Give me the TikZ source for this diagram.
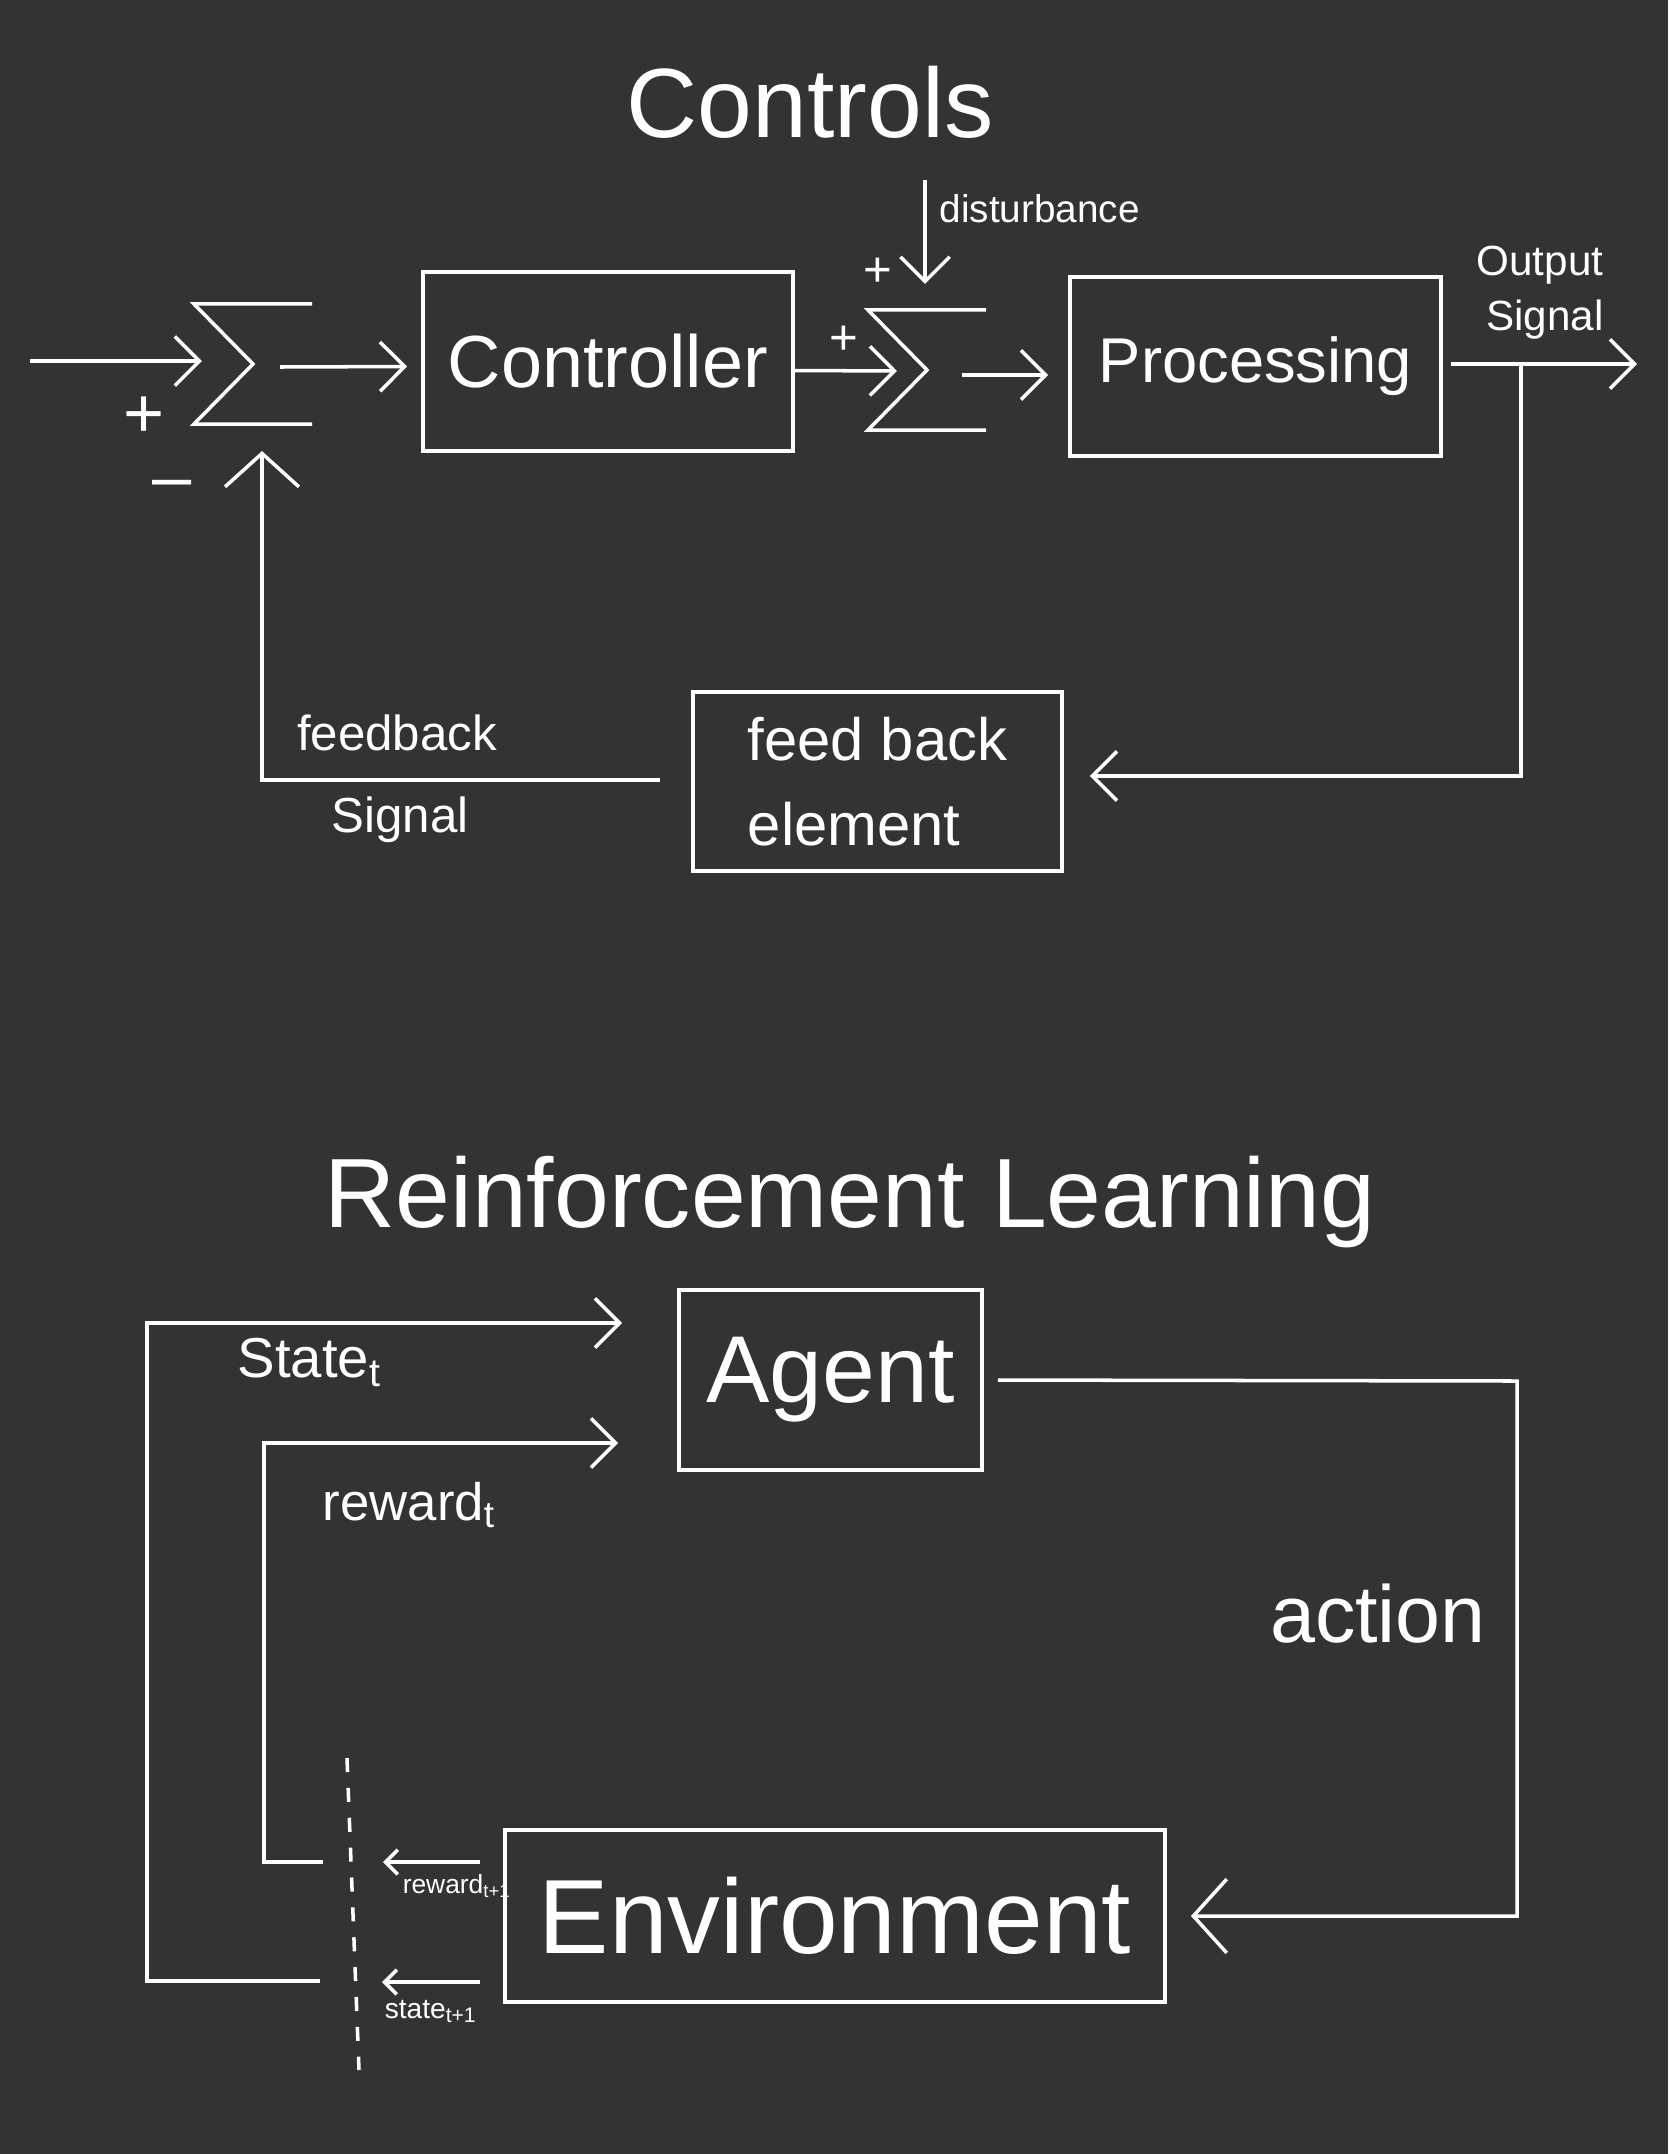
\documentclass[tikz,border=0pt]{standalone}
\usepackage{fontspec}
\setmainfont{Liberation Sans}
\usetikzlibrary{arrows.meta, positioning, calc}
\definecolor{board}{HTML}{333333}
\tikzset{
    arr/.style={-{Straight Barb[length=7pt,width=14pt]}},
    bigarr/.style={-{Straight Barb[length=9.5pt,width=21pt]}},
    smallarr/.style={-{Straight Barb[length=3.5pt,width=7pt]}},
    blk/.style={draw, inner sep=0pt},
    sumj/.style={minimum width=1.18cm, minimum height=1.2cm, inner sep=0pt, outer sep=0pt},
    ttl/.style={font=\fontsize{28}{34}\selectfont},
    pmsign/.style={inner sep=0pt, font=\fontsize{14}{17}\selectfont},
    note/.style={inner sep=0pt, font=\fontsize{14}{17}\selectfont}
}

\begin{document}
\begin{tikzpicture}[x=0.01cm, y=-0.01cm, line width=1pt, color=white]
    \fill[board] (0,0) rectangle (1668,2154);

    % controls
    \node[ttl, anchor=base] (ctitle) at (810,137) {Controls};

    \node[sumj] (s1) at (253,364) {};
    \node[sumj] (s2) at (927,370) {};
    \foreach \s in {s1,s2}
        \draw (\s.north east) -- (\s.north west) -- (\s.center) -- (\s.south west) -- (\s.south east);

    \node[blk, minimum width=3.70cm, minimum height=1.79cm, font=\fontsize{21}{25}\selectfont] (ctrl) at (608,361.5) {Controller};
    \node[blk, minimum width=3.71cm, minimum height=1.79cm, font=\fontsize{18}{22}\selectfont] (proc) at (1255.5,366.5) {Processing};
    \node[blk, minimum width=3.69cm, minimum height=1.79cm, align=left, font=\fontsize{17}{24}\selectfont] (fb) at (877.5,781.5) {feed back\\element};

    \coordinate (in) at (30,361);
    \coordinate (dist) at (925,180);
    \coordinate (out) at (1637,364);
    \coordinate (tap) at (1521,364);

    \draw[arr] (in) -- ($(s1.west)+(8,-3)$);
    \draw[arr] ($(s1.center)+(27,3)$) -- ($(ctrl.west)+(-14,5)$);
    \draw[arr] ($(ctrl.east)+(0,9)$) -- ($(s2.west)+(29,1)$);
    \draw[arr] (dist) -- ($(s2.north)+(-2,-26)$);
    \draw[arr] ($(s2.center)+(35,5)$) -- ($(proc.west)+(-20,8.5)$);
    \draw[arr] ($(proc.east)+(8,-2.5)$) -- (out);
    \draw[arr] (tap) |- ($(fb.east)+(26,-5.5)$);
    \draw[bigarr] ($(fb.west)+(-31,-1.5)$) -| ($(s1.south)+(9,27)$);

    \node[pmsign, font=\fontsize{20}{24}\selectfont] (p1) at (144,417) {+};
    \node[pmsign, font=\fontsize{20}{24}\selectfont] (m1) at (172,490) {–};
    \node[pmsign] (p2) at (844,340) {+};
    \node[pmsign] (p3) at (878,272) {+};

    \node[inner sep=0pt, font=\fontsize{11}{13}\selectfont, anchor=base west] (distl) at (938,222) {disturbance};
    \node[inner sep=0pt, font=\fontsize{12}{14}\selectfont, anchor=base] (outl) at (1540,275) {Output};
    \node[inner sep=0pt, font=\fontsize{12}{14}\selectfont, anchor=base] (outl2) at (1545,330) {Signal};
    \node[note, anchor=base] (fbl) at (397,750) {feedback};
    \node[note, anchor=base] (fbl2) at (400,832) {Signal};

    % reinforcement learning
    \node[ttl, anchor=base] (rtitle) at (850,1227) {Reinforcement Learning};

    \node[blk, minimum width=3.03cm, minimum height=1.80cm, font=\fontsize{27}{32}\selectfont] (agent) at (830.5,1380) {Agent};
    \node[blk, minimum width=6.60cm, minimum height=1.72cm, font=\fontsize{30}{36}\selectfont] (env) at (835,1916) {Environment};

    \coordinate (turn) at (1517,1381);
    \draw[bigarr, shorten <=0.14cm, shorten >=0.24cm] (agent.east) -- (turn) |- (env.east);
    \node[inner sep=0pt, font=\fontsize{23}{28}\selectfont, anchor=base] (actl) at (1378,1642) {action};

    \coordinate (dtop) at (347,1758);
    \coordinate (dbot) at (359,2070);
    \draw[dash pattern=on 4pt off 4.5pt] (dtop) -- (dbot);

    \coordinate (rw1) at (383,1862);
    \coordinate (st1) at (382,1982);
    \coordinate (rw0) at (323,1862);
    \coordinate (st0) at (320,1981);
    \draw[smallarr] ($(env.west)+(-23,-54)$) -- (rw1);
    \draw[smallarr] ($(env.west)+(-23,66)$) -- (st1);
    \draw[arr] (rw0) -- ++(-59,0) |- ($(agent.west)+(-59,63)$);
    \draw[arr] (st0) -- ++(-173,0) |- ($(agent.west)+(-55,-57)$);

    \node[inner sep=0pt, font=\fontsize{16}{19}\selectfont, anchor=base west] (stl) at (236,1377) {State\textsubscript{t}};
    \node[inner sep=0pt, font=\fontsize{15}{18}\selectfont, anchor=base west] (rwl) at (321,1520) {reward\textsubscript{t}};
    \node[inner sep=0pt, font=\fontsize{7.5}{9}\selectfont, anchor=base west] (rwl1) at (401,1893) {reward\textsubscript{t+1}};
    \node[inner sep=0pt, font=\fontsize{8}{10}\selectfont, anchor=base west] (stl1) at (383,2018) {state\textsubscript{t+1}};
\end{tikzpicture}
\end{document}
